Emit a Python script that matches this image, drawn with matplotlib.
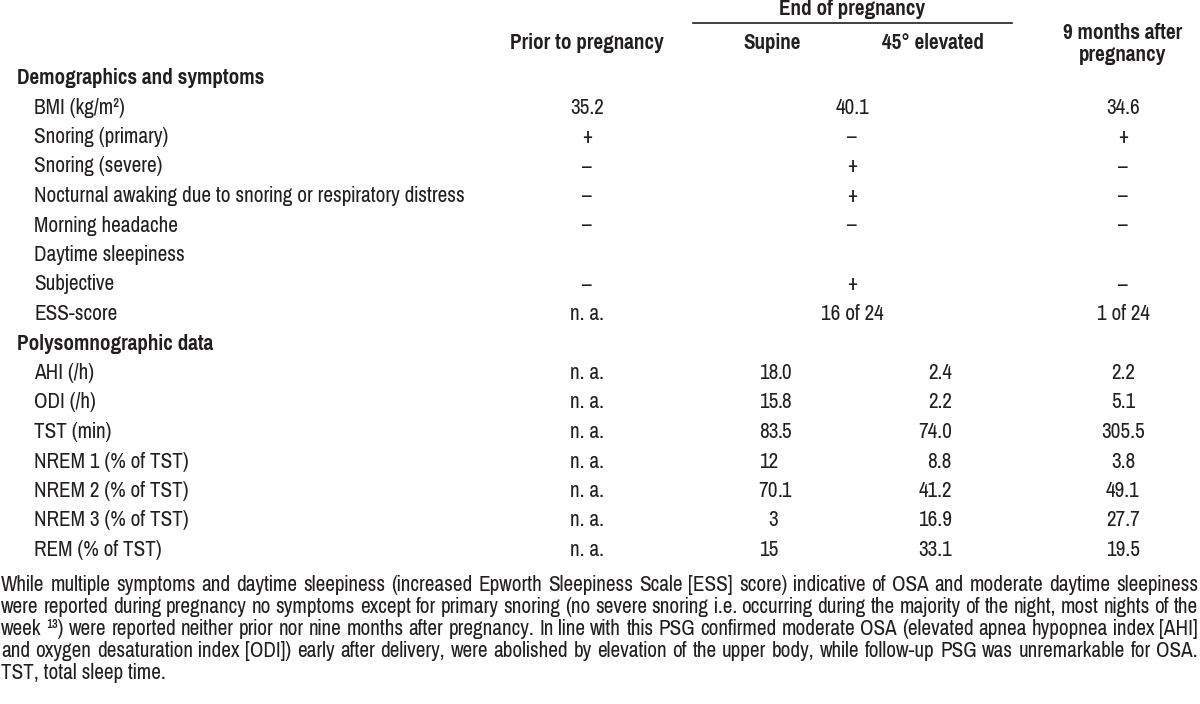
import matplotlib
matplotlib.use("Agg")
import matplotlib.pyplot as plt

# ----------------------------------------------------------
# table content
# ----------------------------------------------------------

col_headers = ["Prior to pregnancy", "Supine", "45° elevated", "9 months after\npregnancy"]
group_header = "End of pregnancy"

sections = ["Demographics and symptoms", "Polysomnographic data"]

demo_labels = ["BMI (kg/m²)", "Snoring (primary)", "Snoring (severe)",
               "Nocturnal awaking due to snoring or respiratory distress",
               "Morning headache", "Daytime sleepiness", "Subjective", "ESS-score"]
demo_prior = ["35.2", "+", "–", "–", "–", "", "–", "n. a."]
demo_end = ["40.1", "–", "+", "+", "–", "", "+", "16 of 24"]   # merged over both positions
demo_after = ["34.6", "+", "–", "–", "–", "", "–", "1 of 24"]

psg_labels = ["AHI (/h)", "ODI (/h)", "TST (min)", "NREM 1 (% of TST)",
              "NREM 2 (% of TST)", "NREM 3 (% of TST)", "REM (% of TST)"]
psg_prior = ["n. a."] * 7
psg_supine = ["18.0", "15.8", "83.5", "12", "70.1", "3", "15"]
psg_elevated = ["2.4", "2.2", "74.0", "8.8", "41.2", "16.9", "33.1"]
psg_after = ["2.2", "5.1", "305.5", "3.8", "49.1", "27.7", "19.5"]

footnote_lines = [
    "While multiple symptoms and daytime sleepiness (increased Epworth Sleepiness Scale [ESS] score) indicative of OSA and moderate daytime sleepiness",
    "were reported during pregnancy no symptoms except for primary snoring (no severe snoring i.e. occurring during the majority of the night, most nights of the",
    "week ¹³) were reported neither prior nor nine months after pregnancy. In line with this PSG confirmed moderate OSA (elevated apnea hypopnea index [AHI]",
    "and oxygen desaturation index [ODI]) early after delivery, were abolished by elevation of the upper body, while follow-up PSG was unremarkable for OSA.",
    "TST, total sleep time.",
]

# ----------------------------------------------------------
# layout / style
# ----------------------------------------------------------

plt.rcParams["font.family"] = ["Pragati Narrow", "Liberation Sans", "DejaVu Sans"]

INK = "#231f20"

X_SECTION, X_LABEL = 17, 34
X_PRIOR, X_END, X_AFTER = 587, 852, 1123
X_SUP_DEC = 778      # decimal point of the supine column
X_ELEV_RIGHT = 952   # right edge of the 45° column
Y0, DY = 78, 29.5

fig = plt.figure(figsize=(12, 7.04), dpi=100)
ax = fig.add_axes([0, 0, 1, 1])
ax.set_xlim(0, 1200)
ax.set_ylim(704, 0)
ax.axis("off")
renderer = fig.canvas.get_renderer()

# pick the font size so the longest label is as wide as in the original (~431 px)
probe = ax.text(0, 0, demo_labels[3], fontsize=12)
FS = 12 * 431 / probe.get_window_extent(renderer).width
probe.remove()


def txt(x, y, s, ha="center", bold=False, **kw):
    return ax.text(x, y, s, ha=ha, va="center", fontsize=FS, color=INK,
                   fontweight="bold" if bold else "normal", **kw)


# header
txt(X_END, 9, group_header, bold=True)
ax.plot([693, 1012], [22.5, 22.5], color=INK, lw=1.2)
txt(X_PRIOR, 43, col_headers[0], bold=True)
txt(772, 43, col_headers[1], bold=True)
txt(933, 43, col_headers[2], bold=True)
txt(X_AFTER, 44, col_headers[3], bold=True, linespacing=1.1)

# demographics block
row = 0
txt(X_SECTION, Y0 + DY * row, sections[0], ha="left", bold=True)
for lab, p, e, a in zip(demo_labels, demo_prior, demo_end, demo_after):
    row += 1
    y = Y0 + DY * row
    txt(X_LABEL, y, lab, ha="left")
    txt(X_PRIOR, y, p)
    txt(X_END, y, e)
    txt(X_AFTER, y, a)

# polysomnography block
row += 1
txt(X_SECTION, Y0 + DY * row, sections[1], ha="left", bold=True)
for lab, p, s, e, a in zip(psg_labels, psg_prior, psg_supine, psg_elevated, psg_after):
    row += 1
    y = Y0 + DY * row
    txt(X_LABEL, y, lab, ha="left")
    txt(X_PRIOR, y, p)
    whole, _, frac = s.partition(".")
    txt(X_SUP_DEC, y, whole, ha="right")
    if frac:
        txt(X_SUP_DEC, y, "." + frac, ha="left")
    txt(X_ELEV_RIGHT, y, e, ha="right")
    txt(X_AFTER, y, a)

# footnote, justified except for the last line
FN_LEFT, FN_RIGHT = 1, 1198
FN_Y0, FN_DY = 585, 22
for i, line in enumerate(footnote_lines):
    y = FN_Y0 + FN_DY * i
    if i == len(footnote_lines) - 1:
        txt(FN_LEFT, y, line, ha="left")
        continue
    words = line.split(" ")
    items = [txt(0, y, w, ha="left") for w in words]
    widths = [t.get_window_extent(renderer).width for t in items]
    gap = (FN_RIGHT - FN_LEFT - sum(widths)) / (len(words) - 1)
    x = FN_LEFT
    for t, w in zip(items, widths):
        t.set_x(x)
        x += w + gap

fig.savefig("out.png", dpi=100, facecolor="white")
